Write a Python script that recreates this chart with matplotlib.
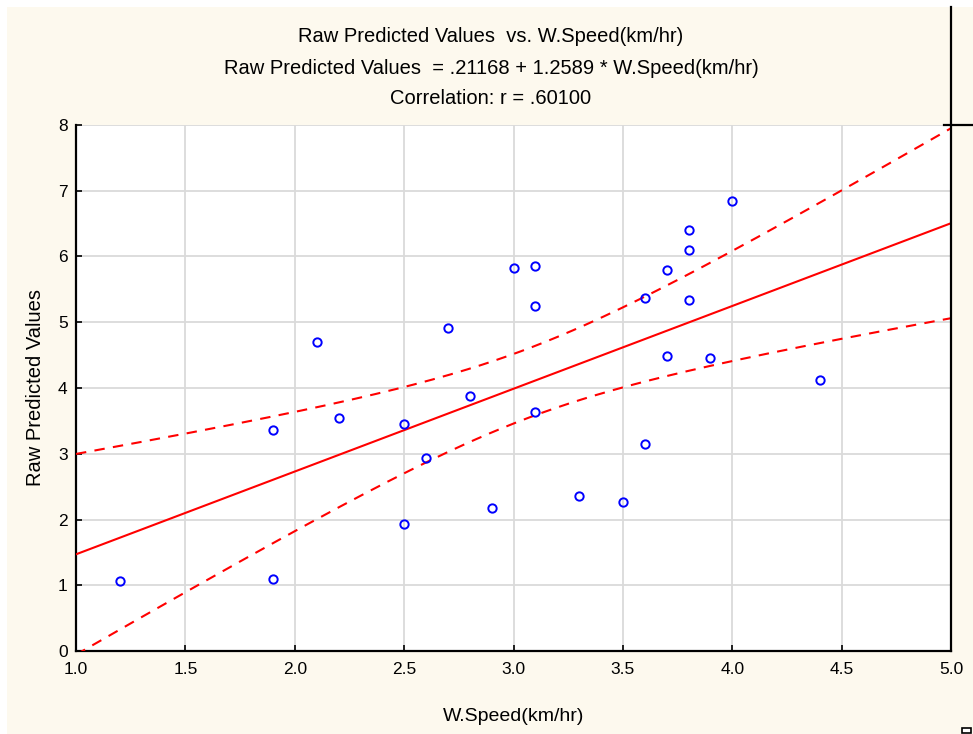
import matplotlib
matplotlib.use("Agg")
import matplotlib.pyplot as plt
from matplotlib.lines import Line2D
from matplotlib.patches import Rectangle
import numpy as np

# data
wspeed = [1.2, 1.9, 1.9, 2.1, 2.2, 2.5, 2.5, 2.6, 2.7, 2.8, 2.9, 3.0, 3.1, 3.1,
          3.1, 3.3, 3.5, 3.6, 3.6, 3.7, 3.7, 3.8, 3.8, 3.8, 3.9, 4.0, 4.4]
raw_pred = [1.06, 1.10, 3.36, 4.70, 3.54, 3.45, 1.93, 2.94, 4.91, 3.88, 2.17, 5.82, 5.86, 5.25,
            3.64, 2.36, 2.27, 5.37, 3.15, 5.79, 4.49, 6.40, 6.10, 5.34, 4.46, 6.84, 4.12]
intercept = 0.21168
slope = 1.2589
xticks = [1.0, 1.5, 2.0, 2.5, 3.0, 3.5, 4.0, 4.5, 5.0]
yticks = [0, 1, 2, 3, 4, 5, 6, 7, 8]

cream = "#FDF9EE"
W, H = 973, 734
fig = plt.figure(figsize=(W / 100, H / 100), dpi=100, facecolor="white")
fig.patches.append(Rectangle((7 / W, 0), 1, 1 - 7 / H, transform=fig.transFigure,
                             facecolor=cream, edgecolor="none", zorder=-10))

ax = fig.add_axes([76 / W, (H - 651) / H, 875 / W, 526 / H])
ax.set_facecolor("white")

x = np.array(wspeed)
y = np.array(raw_pred)
n = len(x)
xs = np.linspace(1.0, 5.0, 200)
fit = intercept + slope * xs
resid = y - (intercept + slope * x)
s = np.sqrt(np.sum(resid ** 2) / (n - 2))
sxx = np.sum((x - x.mean()) ** 2)
tval = 2.0595  # t(0.975, 25)
half = tval * s * np.sqrt(1.0 / n + (xs - x.mean()) ** 2 / sxx)

ax.plot(xs, fit, color="red", lw=1.5, zorder=3)
ax.plot(xs, fit + half, color="red", lw=1.5, ls=(0, (5, 4)), zorder=3)
ax.plot(xs, fit - half, color="red", lw=1.5, ls=(0, (5, 4)), zorder=3)
ax.plot(x, y, "o", mfc="none", mec="blue", ms=6, mew=1.4, zorder=4, clip_on=False)

ax.set_xlim(1.0, 5.0)
ax.set_ylim(0, 8)
ax.set_xticks(xticks)
ax.set_xticklabels(["%.1f" % v for v in xticks])
ax.set_yticks(yticks)
ax.grid(True, color="#DADADA", lw=1.3)
ax.set_axisbelow(True)
ax.tick_params(direction="in", length=4, width=1.2, labelsize=12.5, pad=8,
               labelfontfamily="Liberation Sans")
ax.tick_params(axis="y", pad=6)
for side in ["top", "right"]:
    ax.spines[side].set_visible(False)
for side in ["left", "bottom"]:
    ax.spines[side].set_linewidth(1.6)

ax.set_xlabel("W.Speed(km/hr)", fontsize=14, family="Liberation Sans", labelpad=22)
ax.set_ylabel("Raw Predicted Values", fontsize=14.5, family="Liberation Sans", labelpad=9)

# right frame line and top marker
fig.add_artist(Line2D([951 / W, 951 / W], [(H - 651) / H, 1 - 7 / H],
                      transform=fig.transFigure, color="black", lw=1.6))
fig.add_artist(Line2D([944 / W, 1.0], [(H - 125) / H, (H - 125) / H],
                      transform=fig.transFigure, color="black", lw=1.6))
fig.patches.append(Rectangle((962 / W, 1 / H), 9 / W, 5 / H, transform=fig.transFigure,
                             facecolor="white", edgecolor="black", lw=1.2))

tfont = dict(fontsize=14.5, family="Liberation Sans", ha="center", va="center")
fig.text(491 / W, 1 - 37 / H, "Raw Predicted Values  vs. W.Speed(km/hr)", **tfont)
fig.text(491 / W, 1 - 68 / H,
         "Raw Predicted Values  = .21168 + 1.2589 * W.Speed(km/hr)", **tfont)
fig.text(491 / W, 1 - 99 / H, "Correlation: r = .60100", **tfont)

fig.savefig("out.png", dpi=100, facecolor=fig.get_facecolor())
